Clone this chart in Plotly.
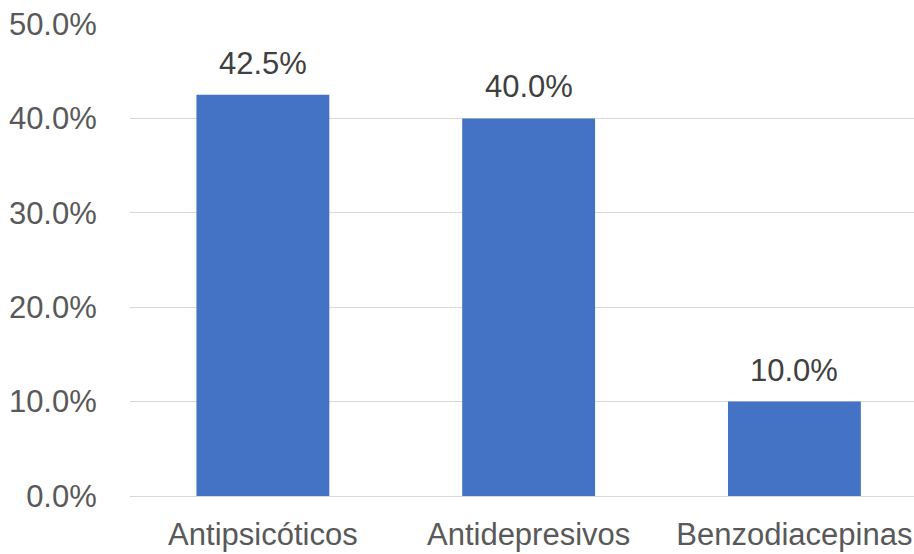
import plotly.graph_objects as go

categories = ["Antipsicóticos", "Antidepresivos", "Benzodiacepinas"]
values = [0.425, 0.40, 0.10]
y_ticks = [0.0, 0.1, 0.2, 0.3, 0.4, 0.5]

FONT = "Liberation Sans, Arial, sans-serif"

fig = go.Figure()
fig.add_trace(go.Bar(
    x=categories, y=values, width=0.5,
    marker=dict(color="#4472C4", line=dict(width=0)),
    hoverinfo="skip",
))

for c, v in zip(categories, values):
    fig.add_annotation(
        x=c, y=v, text=f"{v*100:.1f}%", showarrow=False,
        yanchor="bottom", yshift=12,
        font=dict(family=FONT, size=31, color="#404040"),
    )

fig.update_layout(
    width=914, height=554,
    margin=dict(l=130, r=0, t=24, b=58),
    paper_bgcolor="white", plot_bgcolor="white",
    showlegend=False,
    font=dict(family=FONT, size=31, color="#595959"),
)
fig.update_xaxes(
    range=[-0.5, 2.45], showgrid=False, showline=False, zeroline=False,
    ticks="outside", ticklen=11, tickcolor="rgba(0,0,0,0)",
    tickfont=dict(family=FONT, size=31, color="#595959"),
)
fig.update_yaxes(
    range=[0, 0.5], tickvals=y_ticks, tickformat=".1%",
    showgrid=True, gridcolor="#D9D9D9", gridwidth=1,
    zeroline=True, zerolinecolor="#D9D9D9", zerolinewidth=1,
    showline=False,
    ticks="outside", ticklen=26, tickcolor="rgba(0,0,0,0)",
    tickfont=dict(family=FONT, size=31, color="#595959"),
)

fig.write_html("out.html")
